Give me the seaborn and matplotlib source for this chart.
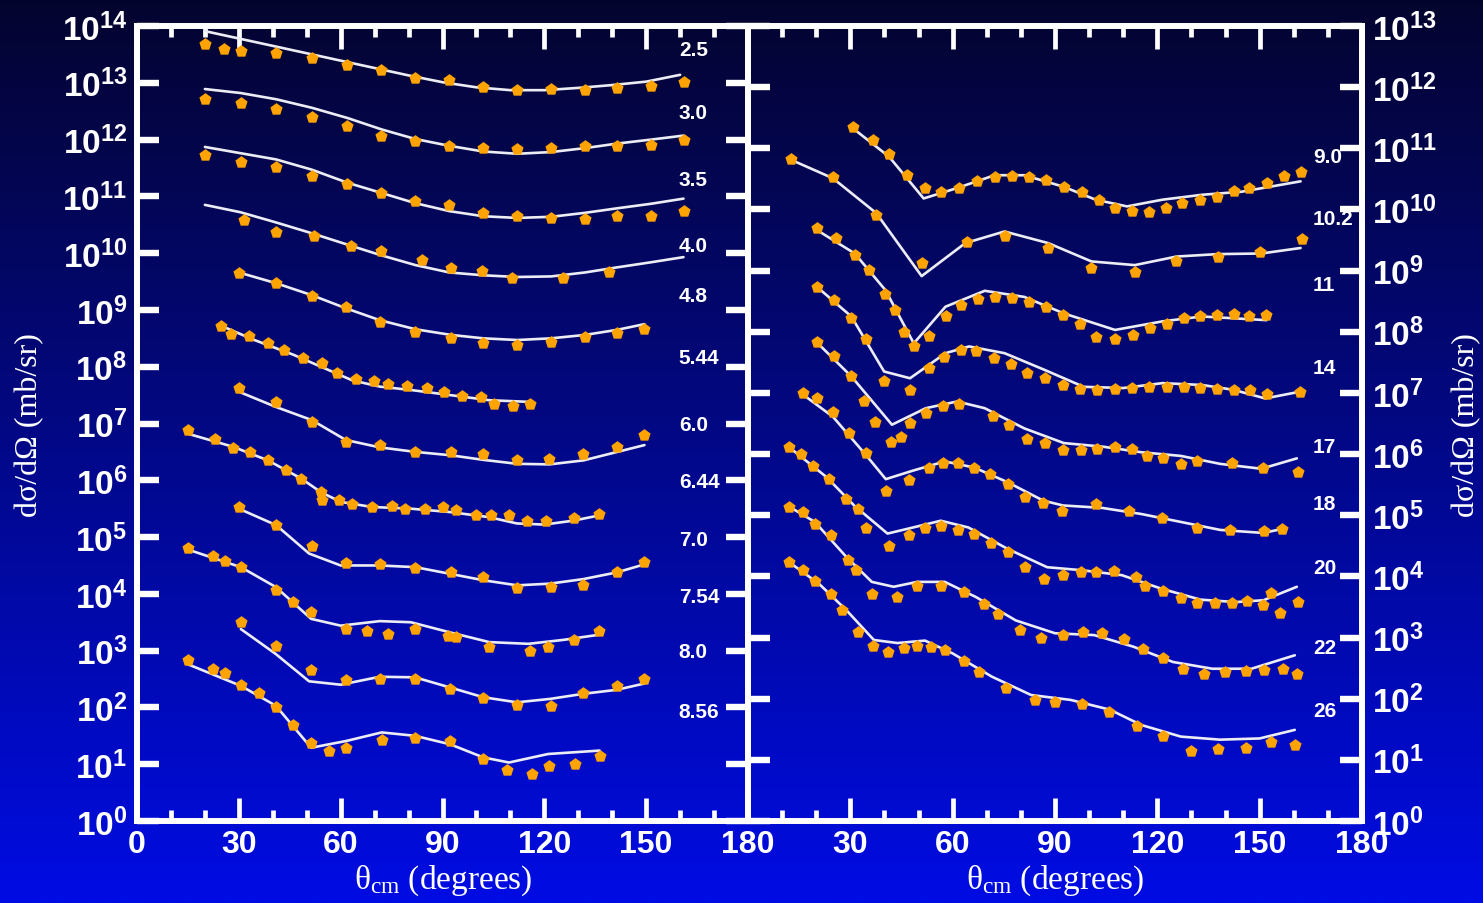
import numpy as np
import matplotlib
matplotlib.use("Agg")
import matplotlib.pyplot as plt
import seaborn as sns
from matplotlib.ticker import FixedLocator, FixedFormatter, MultipleLocator, NullLocator

sns.set_style("white")
plt.rcParams["font.family"] = ["Liberation Sans", "DejaVu Sans"]
plt.rcParams["font.weight"] = "bold"
plt.rcParams["mathtext.fontset"] = "custom"
plt.rcParams["mathtext.rm"] = "Liberation Serif:weight=normal:style=normal"
plt.rcParams["mathtext.it"] = "Liberation Serif:weight=normal:style=italic"
plt.rcParams["mathtext.bf"] = "Liberation Sans:weight=bold"

# ---------------------------------------------------------------------------
# Angular distributions, theta_cm in degrees, values given as log10(dsigma/dOmega)
# (each energy is shifted by whole decades so the curves stack).
# th_* / lg_* : measured points,  fth_* / flg_* : model calculation
# ---------------------------------------------------------------------------

# ----- left panel -----
th_2p5 = [20, 25.5, 30.5, 41, 51.5, 62, 72, 82, 92, 102, 112, 122, 132, 141.5, 151.5, 161]
lg_2p5 = [13.68, 13.60, 13.56, 13.53, 13.44, 13.32, 13.22, 13.09, 13.05, 12.93, 12.88, 12.89, 12.88, 12.91, 12.94, 13.01]
fth_2p5 = [20, 30, 40, 50, 60, 70, 80, 90, 100, 110, 120, 130, 140, 150, 160]
flg_2p5 = [13.91, 13.78, 13.65, 13.52, 13.39, 13.26, 13.13, 13.01, 12.92, 12.87, 12.87, 12.91, 12.96, 13.02, 13.14]

th_3p0 = [20, 30.5, 41, 51.5, 62, 72, 82, 92, 102, 112, 122, 132, 141.5, 151.5, 161]
lg_3p0 = [12.72, 12.65, 12.53, 12.39, 12.24, 12.07, 11.97, 11.89, 11.85, 11.84, 11.85, 11.89, 11.89, 11.91, 11.99]
fth_3p0 = [20, 30.5, 41, 51.5, 62, 72, 82, 92, 102, 112, 122, 132, 141.5, 151.5, 161]
flg_3p0 = [12.89, 12.82, 12.71, 12.56, 12.38, 12.18, 12.01, 11.89, 11.79, 11.75, 11.78, 11.85, 11.93, 12.00, 12.07]

th_3p5 = [20, 30.5, 41, 51.5, 62, 72, 82, 92, 102, 112, 122, 132, 141.5, 151.5, 161]
lg_3p5 = [11.72, 11.60, 11.51, 11.35, 11.22, 11.06, 10.92, 10.84, 10.71, 10.66, 10.62, 10.61, 10.65, 10.65, 10.74]
fth_3p5 = [20, 30.5, 41, 51.5, 62, 72, 82, 92, 102, 112, 122, 132, 141.5, 151.5, 161]
flg_3p5 = [11.87, 11.76, 11.65, 11.47, 11.24, 11.06, 10.88, 10.74, 10.65, 10.62, 10.64, 10.71, 10.79, 10.87, 10.96]

th_4p0 = [31.5, 41, 52, 63, 72, 84, 92.5, 101.5, 110.5, 125.5, 139]
lg_4p0 = [10.59, 10.37, 10.31, 10.12, 10.03, 9.88, 9.74, 9.68, 9.56, 9.56, 9.66]
fth_4p0 = [20, 30.5, 41, 51.5, 62, 71.5, 82, 92, 102, 112, 122, 132, 141.5, 151.5, 161]
flg_4p0 = [10.85, 10.72, 10.54, 10.35, 10.15, 9.97, 9.79, 9.66, 9.61, 9.58, 9.59, 9.66, 9.75, 9.84, 9.93]

th_4p8 = [30, 41, 51.5, 61.5, 71.5, 82, 92.5, 102, 112, 122, 132, 141.5, 149.5]
lg_4p8 = [9.65, 9.47, 9.24, 9.05, 8.78, 8.62, 8.50, 8.41, 8.38, 8.44, 8.52, 8.59, 8.66]
fth_4p8 = [30, 41, 51.5, 61.5, 71.5, 82, 92.5, 102, 112, 122, 132, 141.5, 149.5]
flg_4p8 = [9.66, 9.47, 9.26, 9.03, 8.82, 8.66, 8.56, 8.50, 8.47, 8.50, 8.56, 8.65, 8.75]

th_5p44 = [24.8, 27.7, 32.9, 38.6, 43.3, 49, 54.4, 58.8, 64.6, 69.8, 73.8, 79.6, 85.4, 90.5, 95.7, 101.3, 105.2, 110.7, 115.9]
lg_5p44 = [8.72, 8.58, 8.54, 8.42, 8.29, 8.15, 8.06, 7.89, 7.79, 7.74, 7.69, 7.66, 7.62, 7.56, 7.48, 7.47, 7.35, 7.31, 7.34]
fth_5p44 = [24.8, 34.6, 46.1, 54.2, 63.4, 71.5, 80.7, 92.3, 103.8, 115.9]
flg_5p44 = [8.72, 8.47, 8.21, 8.00, 7.76, 7.65, 7.59, 7.50, 7.41, 7.38]

th_6p0 = [30, 41, 51.5, 61.5, 71.5, 82, 92.5, 102, 112, 121.5, 131.5, 141.5, 149.5]
lg_6p0 = [7.62, 7.38, 7.03, 6.68, 6.63, 6.50, 6.50, 6.47, 6.35, 6.38, 6.46, 6.59, 6.79]
fth_6p0 = [30, 41, 51.5, 61.5, 71.5, 82, 92.5, 102, 112, 121.5, 131.5, 141.5, 149.5]
flg_6p0 = [7.56, 7.29, 7.06, 6.71, 6.58, 6.50, 6.44, 6.36, 6.29, 6.28, 6.35, 6.50, 6.62]

th_6p44 = [15, 23.1, 28.3, 33.4, 38.6, 43.8, 48.4, 54.2, 54.6, 59.4, 63.4, 69.2, 75, 79, 84.8, 90, 94,
           99.8, 104.4, 109.6, 114.8, 120.5, 128.6, 136.1]
lg_6p44 = [6.89, 6.72, 6.56, 6.50, 6.35, 6.18, 6.03, 5.79, 5.65, 5.66, 5.59, 5.53, 5.54, 5.50, 5.49, 5.53, 5.48,
           5.39, 5.39, 5.38, 5.29, 5.28, 5.34, 5.40]
fth_6p44 = [15, 28.3, 38.6, 48.4, 54.2, 60, 69.2, 80.7, 92.3, 103.8, 111.9, 120, 128.6, 136.1]
flg_6p44 = [6.82, 6.59, 6.35, 6.03, 5.79, 5.62, 5.53, 5.50, 5.44, 5.35, 5.24, 5.22, 5.29, 5.38]

th_7p0 = [30, 41, 51.5, 61.5, 71.5, 82, 92.5, 102, 112, 122, 131.5, 141.5, 149.5]
lg_7p0 = [5.53, 5.21, 4.85, 4.54, 4.52, 4.46, 4.38, 4.29, 4.10, 4.12, 4.16, 4.38, 4.56]
fth_7p0 = [30, 41, 50.7, 60, 71.5, 82, 92.5, 102, 112, 121.7, 131.5, 141.5, 149.5]
flg_7p0 = [5.50, 5.21, 4.71, 4.50, 4.50, 4.47, 4.35, 4.24, 4.15, 4.18, 4.26, 4.38, 4.52]

th_7p54 = [15, 22.5, 26, 30.6, 40.9, 46.1, 51.3, 61.7, 67.8, 73.8, 81.9, 91.7, 94, 103.8, 115.9, 121.1, 128.6, 136.1]
lg_7p54 = [4.81, 4.66, 4.58, 4.48, 4.06, 3.85, 3.68, 3.38, 3.34, 3.29, 3.38, 3.26, 3.24, 3.07, 3.00, 3.06, 3.19, 3.34]
fth_7p54 = [15, 30.6, 40.9, 51.3, 60, 71.5, 80.7, 92.3, 103.8, 115.3, 125.7, 136.1]
flg_7p54 = [4.78, 4.47, 4.12, 3.56, 3.44, 3.52, 3.50, 3.32, 3.15, 3.12, 3.19, 3.28]

th_8p0 = [30.6, 40.9, 51.3, 61.7, 71.7, 81.9, 92.3, 102, 111.9, 122, 131.5, 141.3, 149.4]
lg_8p0 = [3.50, 3.09, 2.66, 2.48, 2.50, 2.50, 2.32, 2.16, 2.05, 2.03, 2.25, 2.38, 2.50]
fth_8p0 = [30.6, 40.9, 50.7, 60, 71.5, 81.9, 92.3, 102, 111.9, 121.7, 131.5, 141.3, 149.4]
flg_8p0 = [3.38, 2.94, 2.46, 2.40, 2.54, 2.53, 2.35, 2.18, 2.09, 2.15, 2.24, 2.31, 2.42]

th_8p56 = [15, 22.5, 26, 30.6, 35.8, 40.9, 46.1, 51.3, 56.5, 61.7, 72.1, 81.9, 92.3, 102, 109, 116.5, 121.3, 129, 136.3]
lg_8p56 = [2.84, 2.68, 2.60, 2.40, 2.25, 2.00, 1.69, 1.38, 1.24, 1.28, 1.42, 1.46, 1.41, 1.09, 0.89, 0.82, 0.97, 1.01, 1.15]
fth_8p56 = [15, 30.6, 40.9, 51.3, 61.7, 72.1, 81.9, 92.3, 102, 109.6, 121.1, 136.3]
flg_8p56 = [2.76, 2.38, 2.03, 1.29, 1.41, 1.56, 1.50, 1.35, 1.12, 1.03, 1.18, 1.24]

LEFT_ENERGIES = ["2.5", "3.0", "3.5", "4.0", "4.8", "5.44", "6.0", "6.44", "7.0", "7.54", "8.0", "8.56"]
LEFT_LABEL_LOG = [13.59, 12.48, 11.29, 10.14, 9.26, 8.17, 6.99, 5.97, 4.96, 3.96, 2.98, 1.92]

# ----- right panel -----
th_9p0 = [30.7, 36.5, 41.4, 46.5, 51.9, 56.7, 61.9, 67.1, 72.3, 77.3, 82.4, 87.4, 92.6, 97.8, 102.8, 107.6,
          112.6, 117.6, 122.5, 127.3, 132.5, 137.5, 142.4, 147, 152.2, 157.1, 162]
lg_9p0 = [11.35, 11.13, 10.91, 10.56, 10.35, 10.29, 10.35, 10.46, 10.53, 10.55, 10.53, 10.48, 10.37, 10.28, 10.16,
          10.02, 9.98, 9.96, 10.02, 10.11, 10.16, 10.21, 10.31, 10.35, 10.44, 10.55, 10.62]
fth_9p0 = [30.7, 41.4, 51.5, 61.3, 72.3, 81, 92.6, 101.9, 111.1, 121.5, 133.1, 144.7, 162]
flg_9p0 = [11.33, 10.86, 10.18, 10.35, 10.56, 10.56, 10.37, 10.16, 10.05, 10.16, 10.24, 10.29, 10.46]

th_10p2 = [12.7, 24.9, 37.6, 50.9, 64.2, 75.2, 88, 100.7, 113.4, 125.6, 137.7, 150.2, 162.3]
lg_10p2 = [10.82, 10.53, 9.91, 9.12, 9.47, 9.56, 9.37, 9.04, 8.98, 9.15, 9.23, 9.31, 9.51]
fth_10p2 = [12.7, 24.9, 37.6, 50.9, 63.7, 75.2, 88, 100.7, 113.4, 125.6, 137.7, 150.5, 162]
flg_10p2 = [10.81, 10.51, 9.94, 8.91, 9.45, 9.64, 9.45, 9.15, 9.09, 9.23, 9.27, 9.28, 9.37]

th_11 = [20.3, 25.7, 31.3, 35.6, 40.3, 43.1, 45.7, 48.8, 53, 57.9, 62.5, 67.4, 72.3, 77.3, 82.4, 87.4, 92.4,
         97.2, 102.1, 107.6, 112.8, 117.8, 122.7, 127.7, 132.5, 137.5, 142.4, 147, 152]
lg_11 = [9.69, 9.53, 9.26, 9.01, 8.62, 8.36, 8.00, 7.76, 7.93, 8.26, 8.44, 8.53, 8.57, 8.55, 8.49, 8.40, 8.28,
         8.13, 7.92, 7.88, 7.95, 8.06, 8.13, 8.22, 8.26, 8.28, 8.29, 8.25, 8.28]
fth_11 = [20.3, 31.3, 40.3, 48.6, 57.9, 69.4, 81, 92.6, 107.6, 121.5, 133.1, 152]
flg_11 = [9.66, 9.28, 8.68, 7.81, 8.41, 8.67, 8.57, 8.30, 8.03, 8.17, 8.25, 8.19]

th_14 = [20.3, 25.2, 30.3, 34.5, 39.9, 47.5, 53, 57.6, 62.3, 66.9, 72, 77, 81.9, 87, 92.2, 97.2, 102.4, 107.6,
         112.6, 117.6, 122.7, 127.7, 132.5, 137.5, 142.4, 147.2, 152.2, 161.8]
lg_14 = [8.74, 8.52, 8.22, 7.88, 7.19, 7.05, 7.40, 7.59, 7.70, 7.68, 7.57, 7.47, 7.33, 7.24, 7.13, 7.06, 7.05, 7.06,
         7.08, 7.09, 7.09, 7.09, 7.08, 7.06, 7.04, 7.05, 6.99, 7.01]
fth_14 = [20.3, 30.3, 39.9, 47.5, 57.9, 64.8, 75.2, 86.8, 98.4, 110, 121.5, 133.1, 142.4, 151.6, 161.8]
flg_14 = [8.73, 8.25, 7.35, 7.24, 7.65, 7.76, 7.65, 7.38, 7.10, 7.08, 7.16, 7.13, 7.05, 6.91, 7.02]

th_17 = [20.3, 25.2, 30.3, 34.1, 37.3, 41.9, 44.9, 47.5, 52.3, 57.3, 61.9, 71.8, 76.6, 81.9, 87, 92.2, 97.5,
         102.4, 107.6, 112.6, 117.1, 121.7, 126.9, 131.5, 141.9, 151.1, 161.2]
lg_17 = [7.84, 7.60, 7.28, 6.86, 6.53, 6.19, 6.28, 6.51, 6.67, 6.79, 6.82, 6.62, 6.48, 6.24, 6.18, 6.07, 6.07,
         6.08, 6.11, 6.08, 5.97, 5.93, 5.84, 5.89, 5.86, 5.78, 5.70]
fth_17 = [20.3, 30.3, 42.2, 52.1, 61.3, 69.4, 81, 92.6, 104.2, 115.3, 126.9, 138.4, 150.5, 160.9]
flg_17 = [7.82, 7.27, 6.48, 6.75, 6.86, 6.75, 6.42, 6.18, 6.12, 6.03, 5.97, 5.84, 5.76, 5.93]

th_18 = [16.2, 20.3, 24.9, 29.5, 34.5, 40.4, 47.3, 53.1, 57.1, 61.7, 66.3, 70.9, 76.1, 81.3, 86.5, 92,
         102.1, 111.6, 121.5, 131.5, 141.3, 151.4, 156.5]
lg_18 = [7.00, 6.91, 6.68, 6.35, 6.01, 5.40, 5.58, 5.78, 5.86, 5.86, 5.78, 5.67, 5.51, 5.30, 5.20, 5.07,
         5.18, 5.07, 4.96, 4.79, 4.76, 4.75, 4.78]
fth_18 = [16.2, 24.9, 34.5, 40.4, 48.4, 57.7, 66.3, 76.1, 86.5, 92.3, 103.8, 115.3, 126.9, 138.4, 151.1, 156.9]
flg_18 = [6.97, 6.61, 5.99, 5.59, 5.73, 5.88, 5.78, 5.54, 5.24, 5.16, 5.12, 5.02, 4.89, 4.76, 4.71, 4.78]

th_20 = [12.1, 15.6, 19, 23.6, 28.8, 32.3, 34.6, 41.3, 47.3, 51.9, 56.5, 61.7, 66.3, 71.3, 76.1, 81.3, 86.7,
         92.3, 97.5, 102.1, 107.3, 113.6, 116.5, 121.7, 126.9, 131.5, 137, 141.9, 146.3, 151.1, 153.4, 155.9, 161.2]
lg_20 = [6.11, 6.00, 5.81, 5.59, 5.27, 5.10, 4.79, 4.49, 4.68, 4.79, 4.82, 4.76, 4.70, 4.54, 4.40, 4.15, 3.96,
         4.03, 4.07, 4.07, 4.09, 3.99, 3.85, 3.76, 3.64, 3.57, 3.57, 3.57, 3.60, 3.53, 3.73, 3.40, 3.58]
fth_20 = [12.1, 23.1, 31.1, 40.9, 48.4, 56.5, 64.6, 76.1, 87.7, 98, 109.6, 121.1, 132.6, 143, 151.1, 160.9]
flg_20 = [6.11, 5.62, 5.16, 4.70, 4.80, 4.91, 4.80, 4.45, 4.15, 4.10, 4.02, 3.80, 3.62, 3.58, 3.61, 3.83]

th_22 = [12.1, 16.1, 19.6, 24.2, 29.4, 31.7, 36.3, 43.6, 49.6, 56.5, 63.2, 69.2, 73.2, 79.6, 85.9, 92.3, 98.3,
         103.8, 110.1, 115.9, 121.7, 127.4, 133.8, 139.8, 145.9, 151.3, 156.9, 160.9]
lg_22 = [5.13, 5.05, 4.86, 4.67, 4.26, 4.10, 3.72, 3.66, 3.85, 3.85, 3.74, 3.55, 3.39, 3.13, 3.00, 3.04, 3.09,
         3.07, 2.98, 2.82, 2.67, 2.49, 2.40, 2.43, 2.46, 2.47, 2.49, 2.40]
fth_22 = [12.1, 19.6, 28.8, 36.3, 42.7, 49.6, 57.7, 66.9, 78.5, 90, 101.5, 113, 124.6, 136.1, 147.6, 160.3]
flg_22 = [5.14, 4.89, 4.32, 3.91, 3.83, 3.91, 3.91, 3.66, 3.28, 3.07, 3.04, 2.85, 2.60, 2.49, 2.49, 2.71]

th_26 = [12.1, 16.1, 19.6, 24.2, 27.7, 32.3, 36.7, 40.9, 45.6, 49.6, 53.6, 57.7, 63.2, 67.8, 75.5, 84.2, 90,
         97.8, 105.9, 114, 121.7, 129.8, 137.8, 145.9, 153.4, 160.3]
lg_26 = [4.23, 4.10, 3.92, 3.72, 3.45, 3.09, 2.86, 2.77, 2.83, 2.86, 2.84, 2.80, 2.62, 2.44, 2.18, 1.98, 1.95,
         1.91, 1.79, 1.55, 1.39, 1.14, 1.17, 1.19, 1.30, 1.24]
fth_26 = [12.1, 20.8, 28.8, 36.9, 43.8, 51.9, 60, 71.5, 83, 94.6, 106.1, 115.3, 126.9, 138.4, 150, 160.3]
flg_26 = [4.23, 3.88, 3.45, 2.96, 2.91, 2.95, 2.74, 2.36, 2.06, 1.98, 1.82, 1.57, 1.38, 1.33, 1.35, 1.49]

RIGHT_ENERGIES = ["9.0", "10.2", "11", "14", "17", "18", "20", "22", "26"]
RIGHT_LABEL_LOG = [10.87, 9.86, 8.78, 7.41, 6.12, 5.20, 4.15, 2.83, 1.80]

LEFT_SERIES = [
    (th_2p5, lg_2p5, fth_2p5, flg_2p5), (th_3p0, lg_3p0, fth_3p0, flg_3p0),
    (th_3p5, lg_3p5, fth_3p5, flg_3p5), (th_4p0, lg_4p0, fth_4p0, flg_4p0),
    (th_4p8, lg_4p8, fth_4p8, flg_4p8), (th_5p44, lg_5p44, fth_5p44, flg_5p44),
    (th_6p0, lg_6p0, fth_6p0, flg_6p0), (th_6p44, lg_6p44, fth_6p44, flg_6p44),
    (th_7p0, lg_7p0, fth_7p0, flg_7p0), (th_7p54, lg_7p54, fth_7p54, flg_7p54),
    (th_8p0, lg_8p0, fth_8p0, flg_8p0), (th_8p56, lg_8p56, fth_8p56, flg_8p56),
]
RIGHT_SERIES = [
    (th_9p0, lg_9p0, fth_9p0, flg_9p0), (th_10p2, lg_10p2, fth_10p2, flg_10p2),
    (th_11, lg_11, fth_11, flg_11), (th_14, lg_14, fth_14, flg_14),
    (th_17, lg_17, fth_17, flg_17), (th_18, lg_18, fth_18, flg_18),
    (th_20, lg_20, fth_20, flg_20), (th_22, lg_22, fth_22, flg_22),
    (th_26, lg_26, fth_26, flg_26),
]

# ---------------------------------------------------------------------------
W, H = 1483, 904
LINE_COLOR = "#ECECF4"
DOT_COLOR = "#FFA300"

fig = plt.figure(figsize=(W / 100, H / 100), dpi=100)

# vertical navy-to-blue backdrop
bg = fig.add_axes([0, 0, 1, 1], zorder=-10)
t = np.linspace(0, 1, 512)[:, None, None]
top = np.array([4, 4, 46]) / 255.0
bot = np.array([0, 12, 228]) / 255.0
bg.imshow(top + (bot - top) * t, aspect="auto", extent=[0, 1, 0, 1], interpolation="bilinear")
bg.set_axis_off()

axL = fig.add_axes([137 / W, 1 - 822 / H, 611 / W, 795 / H])
axR = fig.add_axes([748 / W, 1 - 822 / H, 614 / W, 795 / H])


def draw_series(ax, series):
    for th, lg, fth, flg in series:
        sns.lineplot(x=fth, y=10.0 ** np.asarray(flg), ax=ax, color=LINE_COLOR,
                     linewidth=1.9, zorder=2)
        sns.scatterplot(x=th, y=10.0 ** np.asarray(lg), ax=ax, color=DOT_COLOR,
                        marker="p", s=85, linewidth=0, zorder=3)


def style_panel(ax, top_exp, labels_on_left, xmajor):
    ax.set_facecolor("none")
    ax.set_yscale("log")
    ax.set_xlim(0, 180)
    ax.set_ylim(1, 10.0 ** top_exp)
    exps = list(range(0, top_exp + 1))
    ax.yaxis.set_major_locator(FixedLocator([10.0 ** e for e in exps]))
    ax.yaxis.set_major_formatter(FixedFormatter([rf"$\mathbf{{10^{{{e}}}}}$" for e in exps]))
    ax.yaxis.set_minor_locator(NullLocator())
    ax.xaxis.set_major_locator(FixedLocator(xmajor))
    ax.xaxis.set_minor_locator(MultipleLocator(10))
    ax.set_xlabel("")
    ax.set_ylabel("")
    for sp in ax.spines.values():
        sp.set_color("white")
        sp.set_linewidth(4.3)
        sp.set_visible(True)
    ax.tick_params(axis="y", which="major", direction="in", length=16, width=4.6,
                   color="white", left=True, right=True,
                   labelleft=labels_on_left, labelright=not labels_on_left,
                   labelsize=24, labelcolor="white", pad=7)
    ax.tick_params(axis="x", which="major", direction="in", length=16.5, width=3.4,
                   color="white", top=True, bottom=True, labelsize=23,
                   labelcolor="white", pad=6)
    ax.tick_params(axis="x", which="minor", direction="in", length=8, width=3.4,
                   color="white", top=True, bottom=True)


draw_series(axL, LEFT_SERIES)
draw_series(axR, RIGHT_SERIES)
style_panel(axL, 14, True, [0, 30, 60, 90, 120, 150, 180])
style_panel(axR, 13, False, [30, 60, 90, 120, 150, 180])

for name, lg in zip(LEFT_ENERGIES, LEFT_LABEL_LOG):
    axL.text(159.6, 10.0 ** lg, name, color="white", fontsize=15, fontweight="bold",
             ha="left", va="center", zorder=2, clip_on=False)
for name, lg in zip(RIGHT_ENERGIES, RIGHT_LABEL_LOG):
    axR.text(165.6, 10.0 ** lg, name, color="white", fontsize=15, fontweight="bold",
             ha="left", va="center", zorder=2, clip_on=False)

xlab = r"θ$_{\rm cm}$ (degrees)"
ylab = "dσ/dΩ (mb/sr)"
fig.text(443 / W, 1 - 889 / H, xlab, color="white", fontsize=24, fontweight="normal",
         family="Liberation Serif", ha="center", va="baseline")
fig.text(1055 / W, 1 - 889 / H, xlab, color="white", fontsize=24, fontweight="normal",
         family="Liberation Serif", ha="center", va="baseline")
fig.text(30 / W, 1 - 425 / H, ylab, color="white", fontsize=23, fontweight="normal",
         family="Liberation Serif", ha="center", va="center", rotation=90)
fig.text(1467 / W, 1 - 425 / H, ylab, color="white", fontsize=23, fontweight="normal",
         family="Liberation Serif", ha="center", va="center", rotation=90)

fig.savefig("out.png", dpi=100)
